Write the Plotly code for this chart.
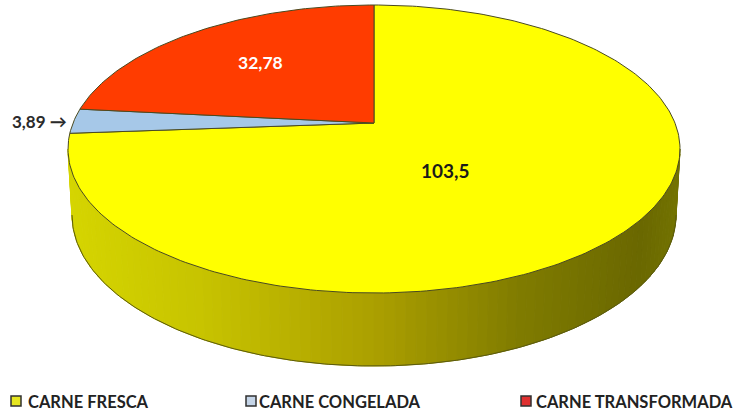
import numpy as np
import plotly.graph_objects as go

categories = ["CARNE FRESCA", "CARNE CONGELADA", "CARNE TRANSFORMADA"]
values = [103.5, 3.89, 32.78]
value_labels = ["103,5", "3,89 →", "32,78"]
top_colors = ["#FFFF00", "#A6C8E8", "#FF3C00"]
legend_colors = ["#E6E620", "#C5D5E8", "#E03030"]

W, H = 733, 412
CX = 374
TOP_BACK, TOP_FRONT, APEX = 5, 293, 123
RX = 306
B_CY, B_RX, B_RY = 215, 302, 151

c = (TOP_BACK + TOP_FRONT - 2 * APEX) / (TOP_FRONT - TOP_BACK)
a = TOP_BACK * (1 + c) - APEX
k = RX * np.sqrt(1 - c * c)


def project(theta):
    """Clockwise-from-back angle on the disc -> page position."""
    u, v = np.sin(theta), np.cos(theta)
    d = 1 + c * v
    return CX + k * u / d, (a * v + APEX) / d


fig = go.Figure()

# side wall, front half of the disc, shaded from left to right
stops_x = [68, 200, 374, 520, 640, 681]
stops_c = [(214, 214, 0), (200, 196, 0), (172, 160, 0), (128, 124, 0), (106, 104, 0), (116, 116, 0)]
n = 90
phis = np.linspace(np.pi, 2 * np.pi, n + 1)
top_mid_cy = (TOP_BACK + TOP_FRONT) / 2
top_ry = (TOP_FRONT - TOP_BACK) / 2
for i in range(n):
    p = phis[i:i + 2]
    xt = CX + RX * np.cos(p)
    yt = top_mid_cy - top_ry * np.sin(p)
    xb = CX + B_RX * np.cos(p)
    yb = B_CY - B_RY * np.sin(p)
    xm = (xt.mean() + xb.mean()) / 2
    col = [int(np.interp(xm, stops_x, [s[j] for s in stops_c])) for j in range(3)]
    col = f"rgb({col[0]},{col[1]},{col[2]})"
    fig.add_trace(go.Scatter(x=[xt[0], xt[1], xb[1], xb[0], xt[0]], y=[yt[0], yt[1], yb[1], yb[0], yt[0]],
                             mode="lines", fill="toself", fillcolor=col, line=dict(color=col, width=1),
                             hoverinfo="skip", showlegend=False))

# outline of the lower rim
p = np.linspace(np.pi, 2 * np.pi, 200)
fig.add_trace(go.Scatter(x=CX + B_RX * np.cos(p), y=B_CY - B_RY * np.sin(p), mode="lines",
                         line=dict(color="#5A5A10", width=1), hoverinfo="skip", showlegend=False))

# top face: slices go clockwise from 12 o'clock, in the order fresca, congelada, transformada
total = sum(values)
start = 0.0
for val, col in zip(values, top_colors):
    sweep = val / total * 2 * np.pi
    th = np.linspace(start, start + sweep, max(int(sweep * 60), 4))
    xs, ys = project(th)
    fig.add_trace(go.Scatter(x=[CX, *xs, CX], y=[APEX, *ys, APEX], mode="lines", fill="toself", fillcolor=col,
                             line=dict(color="#4A4A20", width=1), hoverinfo="skip", showlegend=False))
    start += sweep

# data labels
label_pos = [(445, 170, "#1A1A1A"), (39, 121, "#2A2A2A"), (260, 62, "#FFFFFF")]
sizes = [19, 17, 17.5]
for (x, y, col), txt, s in zip(label_pos, value_labels, sizes):
    fig.add_annotation(x=x, y=y, text=f"<b>{txt}</b>", showarrow=False,
                       font=dict(family="Lato", size=s, color=col))

# legend
leg_x = [16, 251, 526]
leg_text_x = [27, 258, 535]
leg_y = 401
fig.add_trace(go.Scatter(x=leg_x, y=[leg_y] * 3, mode="markers", hoverinfo="skip", showlegend=False,
                         marker=dict(symbol="square", size=10, color=legend_colors,
                                     line=dict(color="#303030", width=1.5))))
for x, name in zip(leg_text_x, categories):
    fig.add_annotation(x=x, y=leg_y + 0.5, text=f"<b>{name}</b>", showarrow=False, xanchor="left",
                       xshift=-1, font=dict(family="Lato", size=16.5, color="#222222"))

fig.update_layout(width=W, height=H, margin=dict(l=0, r=0, t=0, b=0),
                  paper_bgcolor="white", plot_bgcolor="white",
                  xaxis=dict(range=[0, W], visible=False, fixedrange=True),
                  yaxis=dict(range=[H, 0], visible=False, fixedrange=True))
fig.write_html("out.html", config={"displayModeBar": False},
               post_script="document.body.style.margin='0';document.documentElement.style.overflow='hidden';")
